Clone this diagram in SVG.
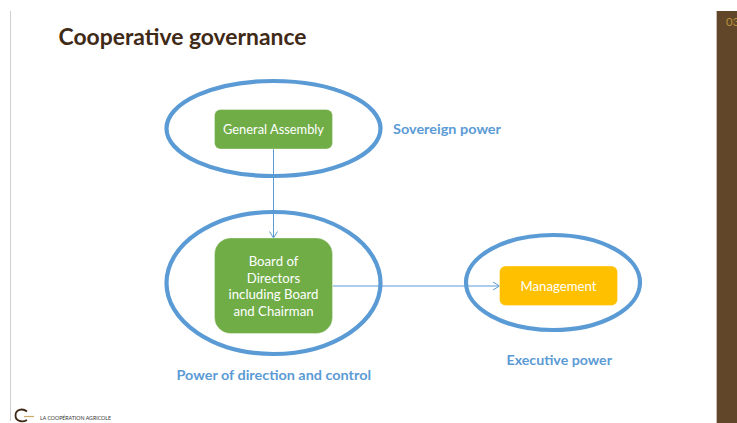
<svg xmlns="http://www.w3.org/2000/svg" width="737" height="423" viewBox="0 0 737 423">
<style>
text{font-family:Lato,"Liberation Sans",sans-serif}
.ring{fill:none;stroke:#5b9bd5;stroke-width:4.2}
.box{stroke:#fff;stroke-opacity:.35;stroke-width:1}
.lbl{font-size:13.2px;fill:#fff;text-anchor:middle}
.pw{font-size:14px;font-weight:700;fill:#5b9bd5}
.ln{fill:none;stroke:#5b9bd5;stroke-width:1}
</style>
<defs>
<marker id="a" viewBox="0 0 8 10" refX="7.5" refY="5" markerWidth="8" markerHeight="10" markerUnits="userSpaceOnUse" orient="auto"><path d="M1 1 7.5 5 1 9" fill="none" stroke="#5b9bd5" stroke-width="1"/></marker>
</defs>
<rect width="737" height="423" fill="#fff"/>
<rect x="10" y="11" width="1" height="410" fill="#cfcfcf"/>
<rect x="716" y="11" width="21" height="412" fill="#614629"/>
<rect x="716" y="11" width="1" height="412" fill="#c9bdb2"/>
<text x="726" y="26" font-size="11.5" fill="#b8933c">03</text>
<text x="58.500" y="45" font-size="23.500" font-weight="700" fill="#3f2a17" textLength="248" lengthAdjust="spacingAndGlyphs">Cooperative governance</text>
<g id="connectors">
<path class="ln" d="M273.500 149V238" marker-end="url(#a)"/>
<path class="ln" d="M332.500 286H499.500" marker-end="url(#a)"/>
</g>
<g id="general-assembly">
<ellipse class="ring" cx="273.500" cy="128.500" rx="107" ry="47.500"/>
<rect class="box" x="214.500" y="109.500" width="118" height="39.500" rx="6" fill="#70ad47"/>
<text class="lbl" x="273.500" y="134" textLength="101" lengthAdjust="spacingAndGlyphs">General Assembly</text>
</g>
<text id="sovereign" class="pw" x="393" y="134" textLength="108" lengthAdjust="spacingAndGlyphs">Sovereign power</text>
<g id="board">
<ellipse class="ring" cx="273.500" cy="283" rx="107" ry="71"/>
<rect class="box" x="214.500" y="238" width="118" height="95.500" rx="16" fill="#70ad47"/>
<text class="lbl" x="273.500" y="266">Board of</text>
<text class="lbl" x="273.500" y="282.500">Directors</text>
<text class="lbl" x="273.500" y="299">including Board</text>
<text class="lbl" x="273.500" y="316">and Chairman</text>
</g>
<text id="direction" class="pw" x="176.500" y="380" textLength="194.500" lengthAdjust="spacingAndGlyphs">Power of direction and control</text>
<g id="management">
<ellipse class="ring" cx="553" cy="282.500" rx="87" ry="47.500"/>
<rect class="box" x="499.500" y="266" width="118" height="39.500" rx="6" fill="#ffc000"/>
<text class="lbl" x="558.500" y="291" textLength="76" lengthAdjust="spacingAndGlyphs">Management</text>
</g>
<text id="executive" class="pw" x="506.500" y="364.500" textLength="105.500" lengthAdjust="spacingAndGlyphs">Executive power</text>
<path d="M27 411.500C22 407.500 15.500 410 15.500 415.500 15.500 421 22 423 27 420" fill="none" stroke="#3f2a17" stroke-width="1.800"/>
<path d="M24 416.500H34" fill="none" stroke="#c9a86a" stroke-width="1.200"/>
<text x="40" y="420" font-size="5.600" fill="#333" textLength="71" lengthAdjust="spacingAndGlyphs">LA COOPÉRATION AGRICOLE</text>
</svg>
